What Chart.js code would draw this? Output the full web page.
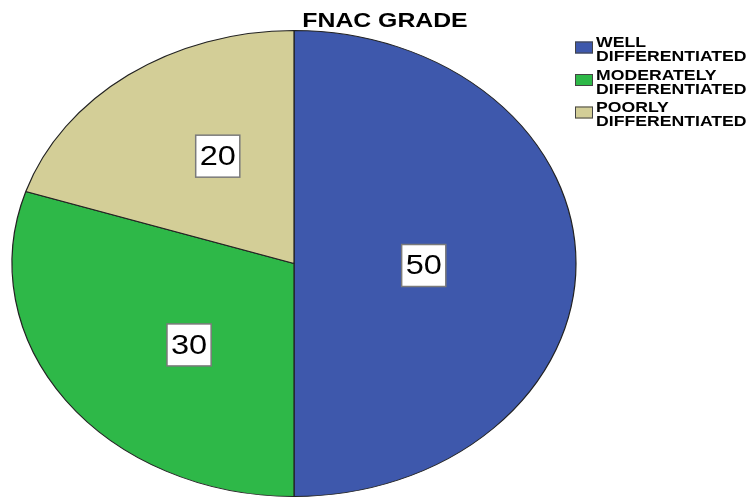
<!DOCTYPE html>
<html>
<head>
<meta charset="utf-8">
<script src="https://cdn.jsdelivr.net/npm/chart.js@4"></script>
<style>
  html, body { margin: 0; padding: 0; background: #fff; }
  #wrap { width: 753px; height: 497px; position: relative; }
</style>
</head>
<body>
<div id="wrap"><canvas id="myChart"></canvas></div>
<script>
const title = "FNAC GRADE";
const categories = [
  ["WELL", "DIFFERENTIATED"],
  ["MODERATELY", "DIFFERENTIATED"],
  ["POORLY", "DIFFERENTIATED"],
];
const counts = [50, 30, 20];
const colors = ["#3e58ac", "#2eb848", "#d3ce97"];

// the original picture is stretched sideways
const stretch = 282 / 233;
const textStretch = 1.26;

const ctx = document.getElementById("myChart").getContext("2d");

const ellipse = {
  id: "ellipse",
  beforeDatasetsDraw(chart) {
    const arc = chart.getDatasetMeta(0).data[0];
    const c = chart.ctx;
    c.save();
    c.translate(arc.x, 0);
    c.scale(stretch, 1);
    c.translate(-arc.x, 0);
  },
  afterDatasetsDraw(chart) {
    chart.ctx.restore();
  },
};

const extras = {
  id: "extras",
  afterDraw(chart) {
    const c = chart.ctx;
    const meta = chart.getDatasetMeta(0);

    // value boxes
    meta.data.forEach((arc, i) => {
      const mid = (arc.startAngle + arc.endAngle) / 2;
      const px = arc.x + Math.cos(mid) * arc.outerRadius * 0.46 * stretch;
      const py = arc.y + Math.sin(mid) * arc.outerRadius * 0.58 + 2;
      const txt = String(counts[i]);
      c.save();
      c.font = "28px 'Liberation Sans', Arial, sans-serif";
      const w = c.measureText(txt).width * 1.16 + 8;
      const h = 42;
      c.fillStyle = "#fff";
      c.fillRect(px - w / 2, py - h / 2, w, h);
      c.strokeStyle = "#7a7a7a";
      c.lineWidth = 1.5;
      c.strokeRect(px - w / 2, py - h / 2, w, h);
      c.translate(px, py + 1);
      c.scale(1.16, 1);
      c.fillStyle = "#000";
      c.textAlign = "center";
      c.textBaseline = "middle";
      c.fillText(txt, 0, 0);
      c.restore();
    });

    // title
    c.save();
    c.font = "bold 20px 'Liberation Sans', Arial, sans-serif";
    c.translate(385, 27);
    c.scale(1.24, 1);
    c.fillStyle = "#000";
    c.textAlign = "center";
    c.textBaseline = "alphabetic";
    c.fillText(title, 0, 0);
    c.restore();

    // legend
    categories.forEach((lines, i) => {
      const top = 41.5 + i * 32.5;
      c.save();
      c.fillStyle = colors[i];
      c.fillRect(575, top, 18, 12);
      c.strokeStyle = "#444";
      c.lineWidth = 1;
      c.strokeRect(575.5, top + 0.5, 17, 11);
      c.font = "bold 14px 'Liberation Sans', Arial, sans-serif";
      c.fillStyle = "#000";
      c.textBaseline = "alphabetic";
      lines.forEach((ln, j) => {
        c.save();
        c.translate(596, top + 5.5 + j * 14);
        c.scale(textStretch, 1);
        c.fillText(ln, 0, 0);
        c.restore();
      });
      c.restore();
    });
  },
};

const data = {
  labels: categories.map((l) => l.join(" ")),
  datasets: [
    {
      data: counts,
      backgroundColor: colors,
      borderColor: "#222",
      borderWidth: 1,
    },
  ],
};

const config = {
  type: "pie",
  data: data,
  options: {
    responsive: true,
    maintainAspectRatio: false,
    animation: false,
    layout: {
      padding: { top: 30, bottom: 0, left: 60, right: 225 },
    },
    plugins: {
      legend: { display: false },
      title: { display: false },
      tooltip: { enabled: false },
    },
  },
  plugins: [ellipse, extras],
};

const myChart = new Chart(ctx, config);
</script>
</body>
</html>
